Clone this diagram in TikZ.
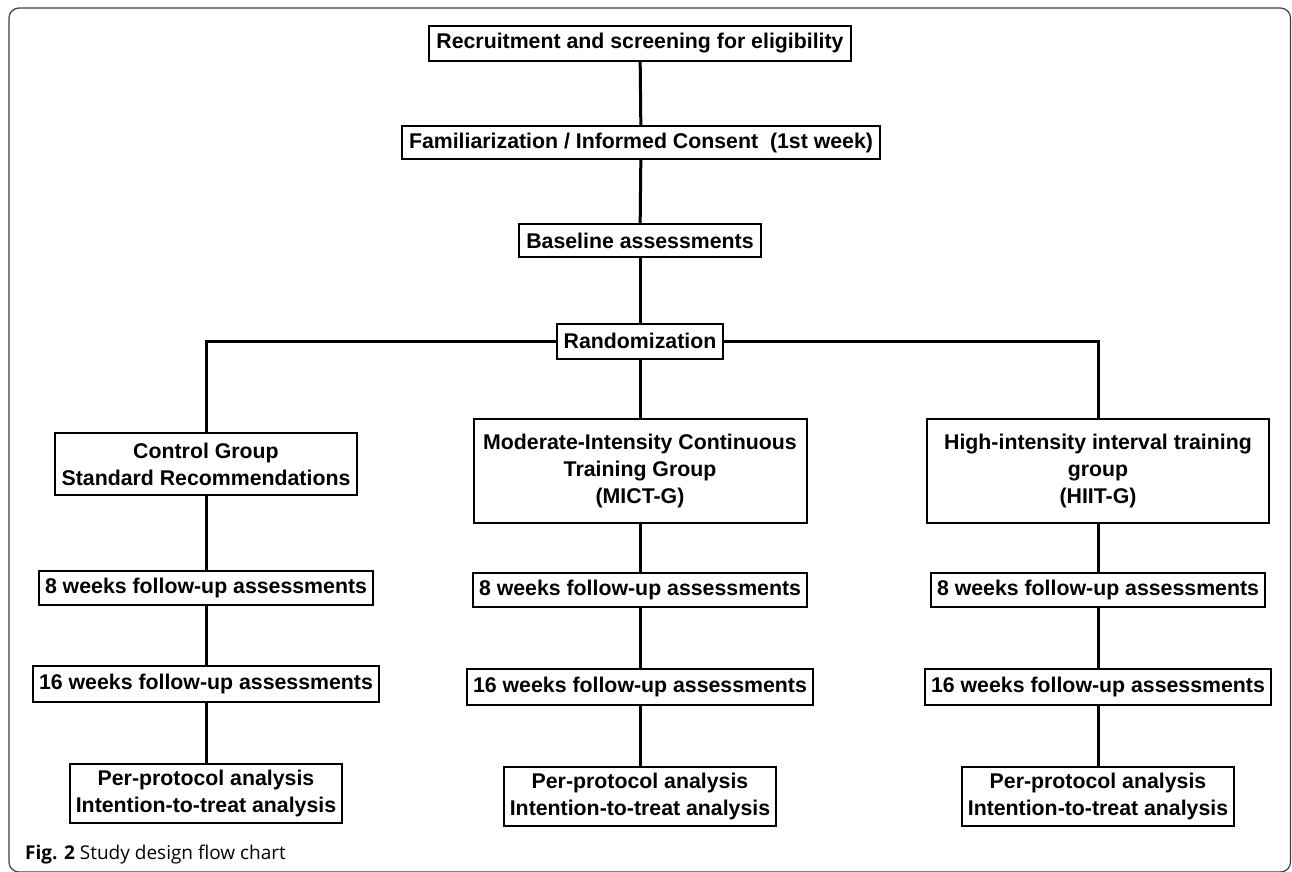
\documentclass[tikz,border=0pt]{standalone}
\usepackage{fontspec}
\setmainfont{Liberation Sans}
\newfontfamily\capfont{Open Sans}
\begin{document}
\begin{tikzpicture}[x=1pt,y=-1pt,
  box/.style={draw=black, line width=2pt, fill=white,
    font=\fontsize{21.3}{27}\selectfont\bfseries, align=center,
    inner xsep=7pt, inner ysep=0pt},
  link/.style={line width=3pt}]
\useasboundingbox (0,0) rectangle (1292,871);
\draw[line width=1.2pt, black!75, rounded corners=10pt] (9,8) rectangle (1290.5,872);

% top chain
\node[box, minimum height=35pt] (rec)  at (640,43.5) {Recruitment and screening for eligibility};
\node[box, minimum height=33pt] (fam)  at (641,142.5) {Familiarization / Informed Consent\ \ (1st week)};
\node[box, minimum height=33pt] (base) at (640,240.5) {Baseline assessments};
\node[box, minimum height=35pt] (rand) at (640,341) {Randomization};

% groups
\node[box, minimum height=62pt, minimum width=301pt] (ctrl) at (206,464) {Control Group\\Standard Recommendations};
\node[box, minimum height=104pt, minimum width=333pt] (mict) at (640,471) {Moderate-Intensity Continuous\\Training Group\\(MICT-G)};
\node[box, minimum height=104pt, minimum width=342pt] (hiit) at (1098,471) {High-intensity interval training\\group\\(HIIT-G)};

% 8 weeks
\node[box, minimum height=34pt, inner xsep=6pt] (w8l) at (206,588) {8 weeks follow-up assessments};
\node[box, minimum height=34pt, inner xsep=6pt] (w8m) at (640,590) {8 weeks follow-up assessments};
\node[box, minimum height=34pt, inner xsep=6pt] (w8r) at (1098,590) {8 weeks follow-up assessments};

% 16 weeks
\node[box, minimum height=36pt, inner xsep=6pt] (w16l) at (206,684) {16 weeks follow-up assessments};
\node[box, minimum height=36pt, inner xsep=6pt] (w16m) at (640,687) {16 weeks follow-up assessments};
\node[box, minimum height=36pt, inner xsep=6pt] (w16r) at (1098,687) {16 weeks follow-up assessments};

% analysis
\node[box, minimum height=59pt, inner xsep=6pt] (ppl) at (206,793.5) {Per-protocol analysis\\Intention-to-treat analysis};
\node[box, minimum height=59pt, inner xsep=6pt] (ppm) at (640,796.5) {Per-protocol analysis\\Intention-to-treat analysis};
\node[box, minimum height=59pt, inner xsep=6pt] (ppr) at (1098,796.5) {Per-protocol analysis\\Intention-to-treat analysis};

% connectors
\draw[link] (rec) -- (fam);
\draw[link] (fam) -- (base);
\draw[link] (base) -- (rand);
\draw[link] (rand.west) -| (ctrl.north);
\draw[link] (rand.east) -| (hiit.north);
\draw[link] (rand) -- (mict);
\draw[link] (ctrl) -- (w8l);
\draw[link] (mict) -- (w8m);
\draw[link] (hiit) -- (w8r);
\draw[link] (w8l) -- (w16l);
\draw[link] (w8m) -- (w16m);
\draw[link] (w8r) -- (w16r);
\draw[link] (w16l) -- (ppl);
\draw[link] (w16m) -- (ppm);
\draw[link] (w16r) -- (ppr);

% caption
\node[anchor=base west, inner sep=0pt, font=\capfont\fontsize{19}{22}\selectfont] (cap) at (25,859) {\textbf{Fig. 2} Study design flow chart};
\end{tikzpicture}
\end{document}
